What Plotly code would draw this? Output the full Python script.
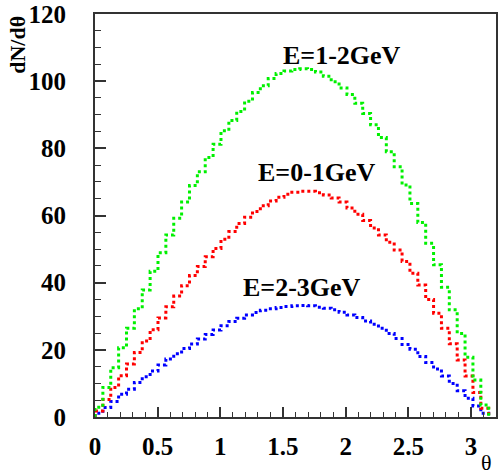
import numpy as np
import plotly.graph_objects as go

# bin contents (50 bins from 0 to pi)
n_bins = 50
theta_max = np.pi

green_12 = [2.9, 8.8, 14.7, 20.6, 26.4, 32.2, 37.8, 43.4, 48.9, 54.2,
            59.2, 64.0, 68.9, 73.0, 77.3, 81.2, 85.2, 88.3, 91.0, 94.0,
            96.6, 98.6, 100.8, 102.3, 103.0, 103.5, 103.7, 103.5, 102.7, 101.5,
            99.8, 98.0, 96.0, 93.4, 90.4, 87.0, 83.2, 79.0, 74.5, 69.1,
            63.6, 57.9, 51.7, 45.3, 38.6, 31.9, 24.9, 17.8, 11.0, 3.6]

red_01 = [1.8, 5.2, 8.8, 12.3, 15.8, 19.2, 22.6, 26.0, 29.5, 32.8,
          36.0, 39.1, 42.1, 44.8, 47.7, 50.2, 52.9, 55.2, 57.6, 59.5,
          61.2, 62.9, 64.3, 65.4, 66.3, 66.9, 67.2, 67.2, 66.8, 66.1,
          65.2, 64.0, 62.2, 60.4, 58.5, 56.3, 54.2, 52.0, 49.7, 46.3,
          42.8, 39.3, 35.0, 30.9, 26.4, 21.8, 17.0, 12.2, 7.3, 2.6]

blue_23 = [1.1, 2.8, 4.6, 6.8, 8.3, 10.3, 12.0, 13.7, 15.5, 17.3,
           18.8, 20.4, 21.7, 23.2, 24.6, 25.9, 27.2, 28.4, 29.4, 30.4,
           31.1, 31.8, 32.2, 32.6, 32.9, 33.1, 33.2, 33.1, 32.7, 32.4,
           31.9, 31.2, 30.4, 29.6, 28.6, 27.6, 26.4, 24.9, 23.4, 21.6,
           20.2, 18.0, 16.2, 14.3, 12.2, 10.0, 7.8, 5.6, 3.3, 1.1]

labels = ["E=1-2GeV", "E=0-1GeV", "E=2-3GeV"]
label_pos = [(1.968, 107.6), (1.77, 72.8), (1.655, 38.5)]

edges = np.linspace(0, theta_max, n_bins + 1)


def step_xy(vals):
    x = [edges[0]] + list(edges[:-1]) + [edges[-1], edges[-1]]
    y = [0] + list(vals) + [vals[-1], 0]
    return x, y


fig = go.Figure()
for vals, col in [(blue_23, "#0000ff"), (red_01, "#ff0000"), (green_12, "#00f000")]:
    x, y = step_xy(vals)
    fig.add_trace(go.Scatter(x=x, y=y, mode="lines", line_shape="hv",
                             line=dict(color=col, width=3, dash="3px,3px"),
                             showlegend=False, hoverinfo="skip"))

for t, (lx, ly) in zip(labels, label_pos):
    fig.add_annotation(x=lx, y=ly, text="<b>" + t + "</b>", showarrow=False,
                       xanchor="center", yanchor="middle",
                       font=dict(family="Liberation Serif", size=26, color="black"))

# axis titles
fig.add_annotation(xref="paper", yref="paper", x=-0.195, y=1.0,
                   text="<b>dN/dθ</b>", textangle=-90, showarrow=False,
                   xanchor="center", yanchor="top",
                   font=dict(family="Liberation Serif", size=22, color="black"))
fig.add_annotation(xref="paper", yref="paper", x=0.995, y=-0.112,
                   text="θ", showarrow=False, xanchor="right", yanchor="middle",
                   font=dict(family="Liberation Serif", size=22, color="black"))

tickfont = dict(family="Liberation Serif", size=25, color="black")
fig.update_xaxes(range=[0, 3.2], showgrid=False, zeroline=False,
                 showline=True, linecolor="#333", linewidth=2, mirror=True,
                 ticks="inside", ticklen=10, tickwidth=1.5, tickcolor="#333",
                 tickvals=[0, 0.5, 1, 1.5, 2, 2.5, 3],
                 ticktext=["<b>0</b>", "<b>0.5</b>", "<b>1</b>", "<b>1.5</b>",
                           "<b>2</b>", "<b>2.5</b>", "<b>3</b>"],
                 minor=dict(ticks="inside", ticklen=5, tickwidth=1.2,
                            tickcolor="#333", dtick=0.1, tick0=0),
                 tickfont=tickfont, ticklabelstandoff=6)
fig.update_yaxes(range=[0, 120], showgrid=False, zeroline=False,
                 showline=True, linecolor="#333", linewidth=2, mirror=True,
                 ticks="inside", ticklen=11, tickwidth=1.5, tickcolor="#333",
                 tickvals=[0, 20, 40, 60, 80, 100, 120],
                 ticktext=["<b>0</b>", "<b>20</b>", "<b>40</b>", "<b>60</b>",
                           "<b>80</b>", "<b>100</b>", "<b>120</b>"],
                 minor=dict(ticks="inside", ticklen=6, tickwidth=1.2,
                            tickcolor="#333", dtick=5, tick0=0),
                 tickfont=tickfont, ticklabelstandoff=22)

fig.update_layout(width=499, height=474, margin=dict(l=95, r=1, t=14, b=57),
                  plot_bgcolor="white", paper_bgcolor="white")

fig.write_html("out.html")
